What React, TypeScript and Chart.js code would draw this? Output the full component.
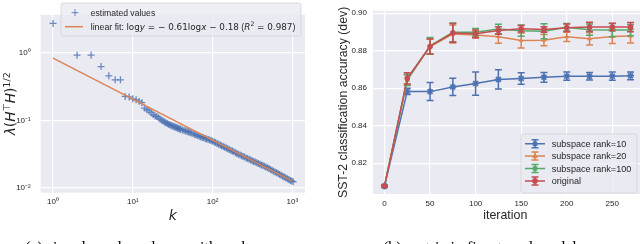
import React, { useEffect, useRef } from "react";
import { Chart, registerables } from "chart.js";

Chart.register(...registerables);

// ---------------- data: left panel (singular values) ----------------
const kValues = [
  1, 2, 3, 4, 5, 6, 7, 8, 9, 10, 11, 12, 13, 14, 15, 16, 17, 18, 19, 20,
  21, 22, 23, 24, 25, 26, 27, 28, 29, 30, 31, 32, 33, 34, 35, 36, 37, 38, 39, 40,
  42, 44, 46, 48, 50, 52, 54, 57, 60, 62, 65, 68, 71, 74, 77, 81, 84, 88, 92, 96, 100,
  105, 109, 114, 119, 125, 130, 136, 142, 149, 155, 162, 170, 177, 185, 194, 202, 211, 221,
  231, 241, 252, 264, 275, 288, 301, 314, 328, 343, 359, 375, 392, 409, 428, 447, 467,
  488, 510, 533, 557, 582, 608, 636, 664, 694, 725, 758, 792, 828, 865, 904, 945, 987, 1024,
];
const lambdaValues = [
  2.71, 0.919, 0.919, 0.624, 0.456, 0.398, 0.398, 0.226, 0.222, 0.208, 0.2015, 0.192, 0.183, 0.152, 0.144, 0.138, 0.13, 0.122, 0.116, 0.1145,
  0.109, 0.1042, 0.1007, 0.0977, 0.0948, 0.0923, 0.0899, 0.0877, 0.0863, 0.0849, 0.0836, 0.0822, 0.0809, 0.0798, 0.0785, 0.0774, 0.0766, 0.0755, 0.0746, 0.0738,
  0.0723, 0.071, 0.0697, 0.0685, 0.0675, 0.0664, 0.0652, 0.0634, 0.0618, 0.0609, 0.0596, 0.0582, 0.0571, 0.0561, 0.0552, 0.0541, 0.0532, 0.0522, 0.0512, 0.0504, 0.0494,
  0.048, 0.047, 0.0457, 0.0446, 0.0433, 0.0423, 0.0411, 0.0401, 0.039, 0.0381, 0.0371, 0.036, 0.0352, 0.0343, 0.0333, 0.0325, 0.0317, 0.0308,
  0.0301, 0.0294, 0.0287, 0.0279, 0.0274, 0.0267, 0.026, 0.0254, 0.0248, 0.0243, 0.0237, 0.0231, 0.0225, 0.022, 0.0215, 0.021, 0.0205,
  0.02, 0.0194, 0.0189, 0.0184, 0.0178, 0.0173, 0.0169, 0.0164, 0.0159, 0.0155, 0.015, 0.0146, 0.0142, 0.0138, 0.0134, 0.013, 0.0127, 0.0124,
];
const fitK = [1, 1000];
const fitLambda = [0.83, 0.0127];
const kTicks = [1, 10, 100, 1000];
const lambdaTicks = [0.01, 0.1, 1];

// ---------------- data: right panel (SST-2 accuracy) ----------------
const iterations = [0, 25, 50, 75, 100, 125, 150, 175, 200, 225, 250, 270];
const rank10Acc = [0.8078, 0.8583, 0.8582, 0.8607, 0.8625, 0.8647, 0.8652, 0.8658, 0.8664, 0.8664, 0.8664, 0.8666];
const rank10Err = [0.0005, 0.0017, 0.0048, 0.0046, 0.0062, 0.0051, 0.0031, 0.0026, 0.0022, 0.002, 0.0022, 0.0021];
const rank20Acc = [0.8078, 0.8645, 0.8822, 0.8889, 0.8884, 0.8875, 0.8855, 0.8856, 0.8874, 0.8864, 0.8876, 0.8878];
const rank20Err = [0.0005, 0.0025, 0.004, 0.0048, 0.0018, 0.0035, 0.004, 0.003, 0.0025, 0.0033, 0.0038, 0.0037];
const rank100Acc = [0.8078, 0.8645, 0.8826, 0.8898, 0.8898, 0.8916, 0.8907, 0.8904, 0.8925, 0.8912, 0.891, 0.891];
const rank100Err = [0.0005, 0.003, 0.0045, 0.005, 0.002, 0.0025, 0.003, 0.004, 0.002, 0.003, 0.0035, 0.003];
const originalAcc = [0.8078, 0.8653, 0.8823, 0.8895, 0.8891, 0.8908, 0.8917, 0.8913, 0.8922, 0.8927, 0.8927, 0.8926];
const originalErr = [0.0005, 0.003, 0.004, 0.005, 0.002, 0.002, 0.0017, 0.0015, 0.002, 0.0025, 0.002, 0.0025];
const accTicks = [0.82, 0.84, 0.86, 0.88, 0.9];
const iterTicks = [0, 50, 100, 150, 200, 250];
const seriesNames = ["subspace rank=10", "subspace rank=20", "subspace rank=100", "original"];

// ---------------- styles ----------------
const BG = "#EAEAF2";
const TXT = "#262626";
const BLUE = "#4C72B0";
const ORANGE = "#DD8452";
const GREEN = "#55A868";
const RED = "#C44E52";
const SANS = "'Liberation Sans', Arial, sans-serif";
const MATH = "'DejaVu Sans', sans-serif";

const SUP: Record<string, string> = { "0": "⁰", "1": "¹", "2": "²", "3": "³", "-": "⁻" };
function powLabel(v: number) {
  const e = Math.round(Math.log10(v));
  return "10" + String(e).split("").map((c) => SUP[c] || c).join("");
}

type Run = { t: string; fam: string; it?: boolean; sup?: boolean };
function runFont(r: Run, size: number) {
  const s = r.sup ? size * 0.7 : size;
  return `${r.it ? "italic " : ""}${s}px ${r.fam}`;
}
function measureRuns(ctx: CanvasRenderingContext2D, runs: Run[], size: number) {
  let w = 0;
  for (const r of runs) {
    ctx.font = runFont(r, size);
    w += ctx.measureText(r.t).width;
  }
  return w;
}
function drawRuns(ctx: CanvasRenderingContext2D, runs: Run[], x: number, y: number, size: number) {
  let cx = x;
  ctx.textAlign = "left";
  ctx.textBaseline = "alphabetic";
  for (const r of runs) {
    ctx.font = runFont(r, size);
    ctx.fillText(r.t, cx, r.sup ? y - size * 0.4 : y);
    cx += ctx.measureText(r.t).width;
  }
}
function fitSize(ctx: CanvasRenderingContext2D, runs: Run[], target: number) {
  return (10 * target) / measureRuns(ctx, runs, 10);
}

function roundRect(ctx: CanvasRenderingContext2D, x: number, y: number, w: number, h: number, r: number) {
  ctx.beginPath();
  ctx.moveTo(x + r, y);
  ctx.lineTo(x + w - r, y);
  ctx.quadraticCurveTo(x + w, y, x + w, y + r);
  ctx.lineTo(x + w, y + h - r);
  ctx.quadraticCurveTo(x + w, y + h, x + w - r, y + h);
  ctx.lineTo(x + r, y + h);
  ctx.quadraticCurveTo(x, y + h, x, y + h - r);
  ctx.lineTo(x, y + r);
  ctx.quadraticCurveTo(x, y, x + r, y);
  ctx.closePath();
}
function legendBox(ctx: CanvasRenderingContext2D, x: number, y: number, w: number, h: number) {
  roundRect(ctx, x, y, w, h, 2.5);
  ctx.fillStyle = "rgba(234,234,242,0.8)";
  ctx.fill();
  ctx.strokeStyle = "rgba(204,204,204,0.8)";
  ctx.lineWidth = 0.8;
  ctx.stroke();
}
function marker(ctx: CanvasRenderingContext2D, style: string, x: number, y: number, r: number, color: string) {
  ctx.fillStyle = color;
  ctx.strokeStyle = color;
  ctx.beginPath();
  if (style === "circle") {
    ctx.arc(x, y, r, 0, Math.PI * 2);
    ctx.fill();
  } else if (style === "triangle") {
    ctx.moveTo(x, y - r * 1.15);
    ctx.lineTo(x + r, y + r * 0.7);
    ctx.lineTo(x - r, y + r * 0.7);
    ctx.closePath();
    ctx.fill();
  } else if (style === "rect") {
    ctx.rect(x - r * 0.8, y - r * 0.8, r * 1.6, r * 1.6);
    ctx.fill();
  } else {
    ctx.lineWidth = 1.5;
    for (let a = 0; a < 4; a++) {
      const ang = (a * Math.PI) / 4;
      ctx.moveTo(x - Math.cos(ang) * r, y - Math.sin(ang) * r);
      ctx.lineTo(x + Math.cos(ang) * r, y + Math.sin(ang) * r);
    }
    ctx.stroke();
  }
}

const areaBg = {
  id: "areaBg",
  beforeDraw(chart: any) {
    const { ctx, chartArea: a } = chart;
    ctx.save();
    ctx.fillStyle = BG;
    ctx.fillRect(a.left, a.top, a.right - a.left, a.bottom - a.top);
    ctx.restore();
  },
};

const leftDecor = {
  id: "leftDecor",
  afterDraw(chart: any) {
    const ctx: CanvasRenderingContext2D = chart.ctx;
    const a = chart.chartArea;
    ctx.save();
    ctx.fillStyle = TXT;
    // x title
    ctx.font = `italic 14px ${MATH}`;
    ctx.textAlign = "center";
    ctx.textBaseline = "middle";
    ctx.fillText("k", (a.left + a.right) / 2, 216);
    // y title
    const yRuns: Run[] = [
      { t: "λ", fam: MATH, it: true },
      { t: "(", fam: MATH },
      { t: "H", fam: MATH, it: true },
      { t: "⊤", fam: MATH, sup: true },
      { t: "H", fam: MATH, it: true },
      { t: ")", fam: MATH },
      { t: "1/2", fam: MATH, sup: true },
    ];
    const ys = Math.min(14, fitSize(ctx, yRuns, 63));
    const yw = measureRuns(ctx, yRuns, ys);
    ctx.save();
    ctx.translate(15, (a.top + a.bottom) / 2);
    ctx.rotate(-Math.PI / 2);
    ctx.fillStyle = TXT;
    drawRuns(ctx, yRuns, -yw / 2, 0, ys);
    ctx.restore();
    // legend
    legendBox(ctx, 61, 3, 240, 33);
    ctx.strokeStyle = "rgba(76,114,176,0.85)";
    ctx.lineWidth = 1;
    ctx.beginPath();
    ctx.moveTo(71.5, 12.7);
    ctx.lineTo(78.5, 12.7);
    ctx.moveTo(75, 9.2);
    ctx.lineTo(75, 16.2);
    ctx.stroke();
    ctx.fillStyle = TXT;
    ctx.font = `8.6px ${SANS}`;
    ctx.textAlign = "left";
    ctx.textBaseline = "alphabetic";
    ctx.fillText("estimated values", 90.7, 15.9);
    ctx.strokeStyle = ORANGE;
    ctx.lineWidth = 1.5;
    ctx.beginPath();
    ctx.moveTo(65, 26.7);
    ctx.lineTo(83, 26.7);
    ctx.stroke();
    const fitRuns: Run[] = [
      { t: "linear fit: ", fam: SANS },
      { t: "log", fam: MATH },
      { t: "y", fam: MATH, it: true },
      { t: " = − 0.61log", fam: MATH },
      { t: "x", fam: MATH, it: true },
      { t: " − 0.18", fam: MATH },
      { t: " (", fam: SANS },
      { t: "R", fam: MATH, it: true },
      { t: "2", fam: MATH, sup: true },
      { t: " = 0.987", fam: MATH },
      { t: ")", fam: SANS },
    ];
    const fs = fitSize(ctx, fitRuns, 205);
    ctx.fillStyle = TXT;
    drawRuns(ctx, fitRuns, 90.7, 26.7 + fs * 0.36, fs);
    ctx.restore();
  },
};

const errorBars = {
  id: "errorBars",
  beforeDatasetDraw(chart: any, args: any) {
    const ds = chart.data.datasets[args.index];
    if (!ds.errors) return;
    const ctx: CanvasRenderingContext2D = chart.ctx;
    const ys = chart.scales.y;
    ctx.save();
    ctx.strokeStyle = ds.borderColor;
    ctx.lineWidth = 1.5;
    args.meta.data.forEach((pt: any, i: number) => {
      const v = ds.data[i].y;
      const top = ys.getPixelForValue(v + ds.errors[i]);
      const bot = ys.getPixelForValue(v - ds.errors[i]);
      ctx.beginPath();
      ctx.moveTo(pt.x, top);
      ctx.lineTo(pt.x, bot);
      ctx.moveTo(pt.x - 3.5, top);
      ctx.lineTo(pt.x + 3.5, top);
      ctx.moveTo(pt.x - 3.5, bot);
      ctx.lineTo(pt.x + 3.5, bot);
      ctx.stroke();
    });
    ctx.restore();
  },
};

const seriesStyles = [
  { color: BLUE, style: "star" },
  { color: ORANGE, style: "triangle" },
  { color: GREEN, style: "rect" },
  { color: RED, style: "circle" },
];

const rightDecor = {
  id: "rightDecor",
  afterDraw(chart: any) {
    const ctx: CanvasRenderingContext2D = chart.ctx;
    const a = chart.chartArea;
    ctx.save();
    ctx.fillStyle = TXT;
    ctx.font = `12.4px ${SANS}`;
    ctx.textAlign = "center";
    ctx.textBaseline = "middle";
    ctx.fillText("iteration", 185.3, 216);
    ctx.save();
    ctx.translate(23.3, (a.top + a.bottom) / 2);
    ctx.rotate(-Math.PI / 2);
    ctx.font = `12.3px ${SANS}`;
    ctx.fillText("SST-2 classification accuracy (dev)", 0, 0);
    ctx.restore();
    // legend
    const ox = 201;
    legendBox(ctx, ox, 134, 116, 59);
    seriesNames.forEach((name, i) => {
      const y = 143.7 + i * 12.4;
      const { color, style } = seriesStyles[i];
      ctx.strokeStyle = color;
      ctx.lineWidth = 1.5;
      ctx.beginPath();
      ctx.moveTo(ox + 4, y);
      ctx.lineTo(ox + 24, y);
      ctx.moveTo(ox + 14, y - 4);
      ctx.lineTo(ox + 14, y + 4);
      ctx.moveTo(ox + 10.5, y - 4);
      ctx.lineTo(ox + 17.5, y - 4);
      ctx.moveTo(ox + 10.5, y + 4);
      ctx.lineTo(ox + 17.5, y + 4);
      ctx.stroke();
      marker(ctx, style, ox + 14, y, 2.8, color);
      ctx.fillStyle = TXT;
      ctx.font = `9.1px ${SANS}`;
      ctx.textAlign = "left";
      ctx.textBaseline = "middle";
      ctx.fillText(name, ox + 30.7, y + 0.5);
    });
    ctx.restore();
  },
};

function gridOpts() {
  return { color: "#FFFFFF", lineWidth: 1.2, drawTicks: false };
}

function leftConfig(): any {
  return {
    type: "scatter",
    data: {
      datasets: [
        {
          type: "scatter",
          label: "estimated values",
          data: kValues.map((k, i) => ({ x: k, y: lambdaValues[i] })),
          pointStyle: "cross",
          pointRadius: 3.5,
          pointBorderWidth: 1.3,
          borderColor: "rgba(76,114,176,0.8)",
          backgroundColor: "rgba(76,114,176,0.8)",
          order: 2,
        },
        {
          type: "line",
          label: "linear fit",
          data: fitK.map((k, i) => ({ x: k, y: fitLambda[i] })),
          borderColor: ORANGE,
          borderWidth: 1.5,
          pointRadius: 0,
          showLine: true,
          order: 1,
        },
      ],
    },
    options: {
      animation: false,
      responsive: false,
      devicePixelRatio: 1,
      layout: { padding: { left: 0, right: 15, top: 0, bottom: 0 }, autoPadding: false },
      plugins: { legend: { display: false }, tooltip: { enabled: false } },
      scales: {
        x: {
          type: "logarithmic",
          min: 0.716,
          max: 1443,
          afterBuildTicks: (ax: any) => {
            ax.ticks = kTicks.map((v) => ({ value: v }));
          },
          afterFit: (s: any) => {
            s.height = 51.3;
          },
          ticks: { callback: (v: number) => powLabel(v), font: { size: 8, family: SANS }, color: TXT, padding: 4, maxRotation: 0, autoSkip: false },
          grid: gridOpts(),
          border: { display: false },
        },
        y: {
          type: "logarithmic",
          min: 0.00855,
          max: 3.63,
          afterBuildTicks: (ax: any) => {
            ax.ticks = lambdaTicks.map((v) => ({ value: v }));
          },
          afterFit: (s: any) => {
            s.width = 40.7;
          },
          ticks: { callback: (v: number) => powLabel(v), font: { size: 8, family: SANS }, color: TXT, padding: 10, autoSkip: false },
          grid: gridOpts(),
          border: { display: false },
        },
      },
    },
    plugins: [areaBg, leftDecor],
  };
}

function rightConfig(): any {
  const series = [
    { acc: rank10Acc, err: rank10Err },
    { acc: rank20Acc, err: rank20Err },
    { acc: rank100Acc, err: rank100Err },
    { acc: originalAcc, err: originalErr },
  ];
  return {
    type: "line",
    data: {
      datasets: series.map((s, si) => ({
        label: seriesNames[si],
        data: iterations.map((x, i) => ({ x, y: s.acc[i] })),
        errors: s.err,
        borderColor: seriesStyles[si].color,
        backgroundColor: seriesStyles[si].color,
        borderWidth: 1.5,
        pointStyle: seriesStyles[si].style,
        pointRadius: seriesStyles[si].style === "star" ? 3.5 : 2.8,
        pointBorderWidth: seriesStyles[si].style === "star" ? 1.5 : 0,
        tension: 0,
        order: 4 - si,
      })),
    },
    options: {
      animation: false,
      responsive: false,
      devicePixelRatio: 1,
      layout: { padding: { left: 0, right: 0, top: 0, bottom: 0 }, autoPadding: false },
      plugins: { legend: { display: false }, tooltip: { enabled: false } },
      scales: {
        x: {
          type: "linear",
          min: -12.6,
          max: 280.4,
          afterBuildTicks: (ax: any) => {
            ax.ticks = iterTicks.map((v) => ({ value: v }));
          },
          afterFit: (s: any) => {
            s.height = 50;
          },
          ticks: { callback: (v: number) => String(v), font: { size: 8, family: SANS }, color: TXT, padding: 5, maxRotation: 0, autoSkip: false },
          grid: gridOpts(),
          border: { display: false },
        },
        y: {
          type: "linear",
          min: 0.8036,
          max: 0.9013,
          afterBuildTicks: (ax: any) => {
            ax.ticks = accTicks.map((v) => ({ value: v }));
          },
          afterFit: (s: any) => {
            s.width = 53;
          },
          ticks: { callback: (v: number) => v.toFixed(2), font: { size: 8, family: SANS }, color: TXT, padding: 6, autoSkip: false },
          grid: gridOpts(),
          border: { display: false },
        },
      },
    },
    plugins: [areaBg, errorBars, rightDecor],
  };
}

export default function App() {
  const leftRef = useRef<HTMLCanvasElement>(null);
  const rightRef = useRef<HTMLCanvasElement>(null);
  useEffect(() => {
    const c1 = new Chart(leftRef.current as HTMLCanvasElement, leftConfig());
    const c2 = new Chart(rightRef.current as HTMLCanvasElement, rightConfig());
    return () => {
      c1.destroy();
      c2.destroy();
    };
  }, []);
  const caption: React.CSSProperties = {
    position: "absolute",
    top: 239.5,
    font: "16px 'Liberation Serif', serif",
    lineHeight: "16px",
    whiteSpace: "nowrap",
    color: "#000",
  };
  return (
    <div style={{ position: "fixed", left: 0, top: 0, width: 640, height: 244, overflow: "hidden", background: "#fff" }}>
      <canvas ref={leftRef} width={320} height={244} style={{ position: "absolute", left: 0, top: 0, width: 320, height: 244 }} />
      <canvas ref={rightRef} width={320} height={244} style={{ position: "absolute", left: 320, top: 0, width: 320, height: 244 }} />
      <div style={{ ...caption, left: 25 }}>(a) singular values decay with rank</div>
      <div style={{ ...caption, left: 383 }}>(b) metric in fine-tuned model</div>
    </div>
  );
}
